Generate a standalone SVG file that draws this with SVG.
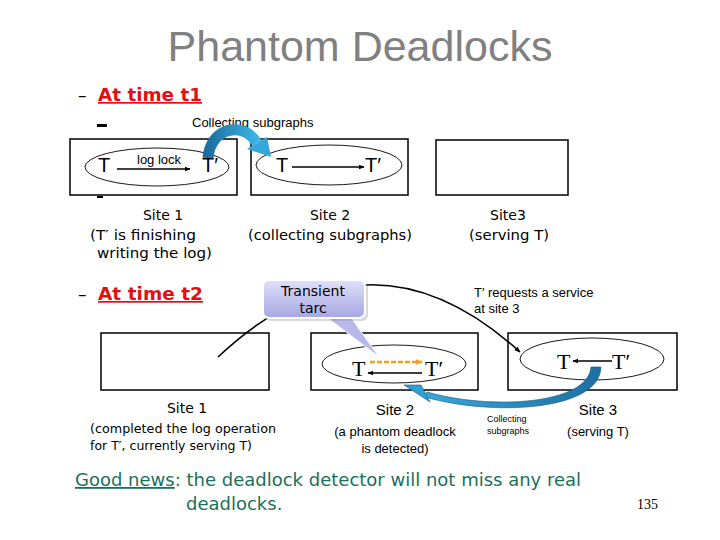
<svg xmlns="http://www.w3.org/2000/svg" width="720" height="540" viewBox="0 0 720 540">
<defs>
<style>
.box{fill:none;stroke:#000;stroke-width:1.5}
.ell{fill:none;stroke:#000;stroke-width:0.9}
.comic{font-family:"DejaVu Sans",sans-serif;fill:#000}
.ar{font-family:"Liberation Sans",Arial,sans-serif;fill:#000}
.tm{font-family:"Liberation Serif","Times New Roman",serif;fill:#000}
.red{font-family:"DejaVu Sans",sans-serif;font-weight:bold;fill:#e01010;text-decoration:underline}
.green{font-family:"DejaVu Sans",sans-serif;fill:#1a705a}
.line{fill:none;stroke:#000;stroke-width:1.6}
</style>
<marker id="ah" viewBox="0 0 10 10" refX="9" refY="5" markerWidth="6" markerHeight="6" orient="auto" markerUnits="userSpaceOnUse">
<path d="M0,1 L10,5 L0,9 z" fill="#000"/>
</marker>
<marker id="ahO" viewBox="0 0 10 10" refX="9" refY="5" markerWidth="7" markerHeight="7" orient="auto" markerUnits="userSpaceOnUse">
<path d="M0,1 L10,5 L0,9 z" fill="#f0a020"/>
</marker>
<linearGradient id="blueG" x1="0" y1="0" x2="1" y2="0">
<stop offset="0" stop-color="#1d6fa0"/>
<stop offset="1" stop-color="#3cb4e6"/>
</linearGradient>
<linearGradient id="blueG2" x1="1" y1="0" x2="0" y2="0">
<stop offset="0" stop-color="#1d6fa0"/>
<stop offset="1" stop-color="#36a8dc"/>
</linearGradient>
<linearGradient id="lav" x1="0" y1="0" x2="0" y2="1">
<stop offset="0" stop-color="#e0e0fa"/>
<stop offset="1" stop-color="#a6a6e2"/>
</linearGradient>
</defs>
<rect width="720" height="540" fill="#fff"/>

<text x="360" y="61" text-anchor="middle" font-family="Liberation Sans,Arial,sans-serif" font-size="43" fill="#808080">Phantom Deadlocks</text>

<g id="heading-t1">
<text x="78" y="101" font-family="DejaVu Sans,sans-serif" font-size="17" fill="#000">–</text>
<text x="98" y="101" class="red" font-size="17" textLength="104" lengthAdjust="spacingAndGlyphs">At time t1</text>
<rect x="97" y="124" width="10" height="3" fill="#000"/>
<rect x="97" y="196" width="6" height="2" fill="#000"/>
</g>

<g id="site1-t1">
<rect class="box" x="70" y="139" width="167" height="56"/>
<ellipse class="ell" cx="157" cy="167" rx="72" ry="19"/>
<text class="ar" x="98" y="172" font-size="20">T</text>
<text class="ar" x="202" y="172" font-size="20">T′</text>
<text class="ar" x="137" y="164" font-size="13">log lock</text>
<line class="line" x1="117" y1="169" x2="190" y2="169" marker-end="url(#ah)"/>
<text class="comic" x="163" y="220" font-size="14" text-anchor="middle">Site 1</text>
<text class="comic" x="90" y="240" font-size="14" textLength="106" lengthAdjust="spacingAndGlyphs">(T′ is finishing</text>
<text class="comic" x="97" y="258" font-size="14" textLength="115" lengthAdjust="spacingAndGlyphs">writing the log)</text>
</g>

<g id="site2-t1">
<rect class="box" x="251" y="139" width="157" height="56"/>
<ellipse class="ell" cx="329" cy="165" rx="73" ry="20"/>
<text class="ar" x="276" y="172" font-size="20">T</text>
<text class="ar" x="365" y="172" font-size="20">T′</text>
<line class="line" x1="292" y1="167" x2="364" y2="167" marker-end="url(#ah)"/>
<text class="comic" x="330" y="220" font-size="14" text-anchor="middle">Site 2</text>
<text class="comic" x="248" y="240" font-size="14" textLength="164" lengthAdjust="spacingAndGlyphs">(collecting subgraphs)</text>
</g>

<g id="site3-t1">
<rect class="box" x="436" y="140" width="132" height="55"/>
<text class="comic" x="508" y="220" font-size="14" text-anchor="middle">Site3</text>
<text class="comic" x="469" y="240" font-size="14" textLength="80" lengthAdjust="spacingAndGlyphs">(serving T)</text>
</g>

<g id="collect-top">
<text class="ar" x="192" y="127" font-size="13">Collecting subgraphs</text>
<path d="M208,158 C210,128 243,120 257,143" fill="none" stroke="url(#blueG)" stroke-width="11"/>
<path d="M247,149 L267,137 L271,157 Z" fill="#35a6dc"/>
</g>

<g id="heading-t2">
<text x="78" y="300" font-family="DejaVu Sans,sans-serif" font-size="17" fill="#000">–</text>
<text x="98" y="300" class="red" font-size="17" textLength="105" lengthAdjust="spacingAndGlyphs">At time t2</text>
</g>

<g id="connectors">
<path class="line" d="M218,357 Q369,215 520,352" marker-end="url(#ah)"/>
</g>

<g id="site1-t2">
<rect class="box" x="101" y="333" width="168" height="57"/>
<text class="comic" x="187" y="413" font-size="14" text-anchor="middle">Site 1</text>
<text class="comic" x="90" y="433" font-size="13" textLength="186" lengthAdjust="spacingAndGlyphs">(completed the log operation</text>
<text class="comic" x="90" y="450" font-size="13" textLength="162" lengthAdjust="spacingAndGlyphs">for T′, currently serving T)</text>
</g>

<g id="site2-t2">
<rect class="box" x="311" y="333" width="167" height="57"/>
<ellipse class="ell" cx="394" cy="364" rx="72" ry="19"/>
<text class="tm" x="352" y="376" font-size="22">T</text>
<text class="tm" x="425" y="376" font-size="22">T′</text>
<line x1="370" y1="362" x2="422" y2="362" stroke="#f0a020" stroke-width="2.5" stroke-dasharray="5,2" marker-end="url(#ahO)"/>
<line class="line" x1="422" y1="373" x2="368" y2="373" marker-end="url(#ah)"/>
<text class="ar" x="395" y="415" font-size="15" text-anchor="middle">Site 2</text>
<text class="ar" x="395" y="436" font-size="13" text-anchor="middle">(a phantom deadlock</text>
<text class="ar" x="395" y="453" font-size="13" text-anchor="middle">is detected)</text>
</g>

<g id="site3-t2">
<rect class="box" x="508" y="333" width="169" height="57"/>
<ellipse class="ell" cx="592" cy="359" rx="72" ry="21"/>
<text class="tm" x="557" y="369" font-size="22">T</text>
<text class="tm" x="612" y="369" font-size="22">T′</text>
<line class="line" x1="612" y1="361" x2="573" y2="361" marker-end="url(#ah)"/>
<text class="ar" x="598" y="415" font-size="15" text-anchor="middle">Site 3</text>
<text class="ar" x="598" y="436" font-size="13" text-anchor="middle">(serving T)</text>
</g>

<g id="collect-bottom">
<path d="M591,367 L601,367 C600,412 490,416 425,397 L427,392 C490,410 588,405 591,367 Z" fill="url(#blueG2)" stroke="#15577f" stroke-width="0.6"/>
<path d="M430,402 L421,385 L404,385 Z" fill="#2f9fd6" stroke="#15577f" stroke-width="0.6"/>
<text class="ar" x="487" y="422" font-size="9">Collecting</text>
<text class="ar" x="487" y="434" font-size="9">subgraphs</text>
</g>

<g id="callout">
<path d="M325,316 L350,316 L379,357 Z" fill="#b8b8ea" stroke="#fff" stroke-width="1"/>
<rect x="265" y="282" width="103" height="39" rx="6" fill="#9090a0" opacity="0.35"/>
<rect x="263" y="280" width="102" height="38" rx="6" fill="url(#lav)" stroke="#fff" stroke-width="2"/>
<text class="comic" x="313" y="296" font-size="14" text-anchor="middle">Transient</text>
<text class="comic" x="313" y="313" font-size="14" text-anchor="middle">tarc</text>
</g>

<g id="note">
<text class="ar" x="474" y="297" font-size="13">T′ requests a service</text>
<text class="ar" x="474" y="313" font-size="13">at site 3</text>
</g>

<g id="footer">
<text class="green" x="75" y="486" font-size="18"><tspan text-decoration="underline">Good news</tspan>:  the deadlock detector will not miss any real</text>
<text class="green" x="186" y="510" font-size="18">deadlocks.</text>
<text class="tm" x="637" y="509" font-size="14">135</text>
</g>
</svg>
